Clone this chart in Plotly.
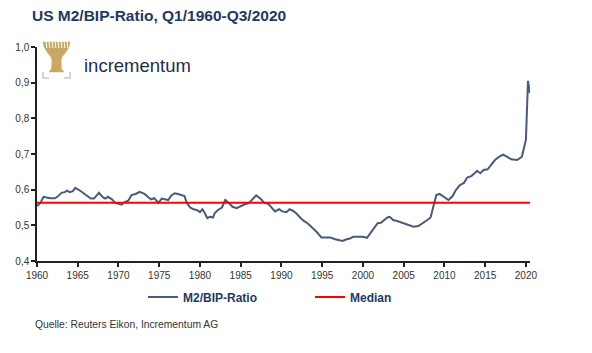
import plotly.graph_objects as go

title_text = "US M2/BIP-Ratio, Q1/1960-Q3/2020"
source_text = "Quelle: Reuters Eikon, Incrementum AG"
series_name = "M2/BIP-Ratio"
median_name = "Median"

years = [1960.0, 1960.4, 1960.8, 1961.2, 1961.6, 1962.2, 1962.6, 1963.0, 1963.4, 1963.7,
         1964.0, 1964.4, 1964.7, 1965.3, 1965.7, 1966.2, 1966.6, 1967.0, 1967.3, 1967.6,
         1968.1, 1968.4, 1968.7, 1969.2, 1969.6, 1970.0, 1970.4, 1970.8, 1971.2, 1971.6,
         1972.1, 1972.6, 1973.2, 1973.7, 1974.0, 1974.4, 1974.9, 1975.3, 1975.7, 1976.1,
         1976.5, 1976.9, 1977.3, 1977.8, 1978.1, 1978.4, 1978.8, 1979.2, 1979.6, 1980.0,
         1980.3, 1980.6, 1980.9, 1981.2, 1981.6, 1981.8, 1982.2, 1982.7, 1983.1, 1983.5,
         1984.0, 1984.5, 1985.0, 1985.5, 1986.0, 1986.5, 1986.9, 1987.4, 1987.9, 1988.4,
         1988.8, 1989.2, 1989.7, 1990.1, 1990.6, 1991.0, 1991.4, 1991.8, 1992.3, 1992.7,
         1993.2, 1993.7, 1994.3, 1994.9, 1995.5, 1996.0, 1996.6, 1997.1, 1997.5, 1998.0,
         1998.4, 1998.8, 1999.2, 1999.6, 2000.0, 2000.5, 2000.9, 2001.4, 2001.8, 2002.2,
         2002.6, 2003.0, 2003.3, 2003.7, 2004.1, 2004.9, 2005.6, 2006.2, 2006.8, 2007.4,
         2007.9, 2008.3, 2008.6, 2009.0, 2009.4, 2009.9, 2010.5, 2011.0, 2011.4, 2011.9,
         2012.4, 2012.8, 2013.3, 2013.7, 2014.0, 2014.4, 2014.8, 2015.3, 2015.7, 2016.2,
         2016.7, 2017.2, 2017.7, 2018.2, 2018.9, 2019.5, 2019.75, 2020.0, 2020.25, 2020.5]

ratio = [0.554, 0.562, 0.580, 0.578, 0.576, 0.576, 0.582, 0.591, 0.593, 0.597,
         0.593, 0.596, 0.605, 0.597, 0.591, 0.582, 0.575, 0.575, 0.582, 0.591,
         0.578, 0.575, 0.580, 0.573, 0.563, 0.560, 0.558, 0.566, 0.569, 0.585,
         0.588, 0.594, 0.588, 0.578, 0.573, 0.576, 0.563, 0.575, 0.573, 0.571,
         0.584, 0.590, 0.588, 0.584, 0.582, 0.562, 0.550, 0.545, 0.543, 0.537,
         0.545, 0.534, 0.520, 0.524, 0.522, 0.534, 0.543, 0.550, 0.571, 0.563,
         0.552, 0.548, 0.554, 0.559, 0.562, 0.573, 0.584, 0.575, 0.563, 0.560,
         0.550, 0.539, 0.545, 0.539, 0.537, 0.545, 0.541, 0.534, 0.522, 0.513,
         0.506, 0.496, 0.482, 0.466, 0.465, 0.466, 0.461, 0.459, 0.456, 0.461,
         0.463, 0.468, 0.468, 0.466, 0.468, 0.465, 0.478, 0.496, 0.506, 0.507,
         0.515, 0.522, 0.524, 0.515, 0.513, 0.507, 0.501, 0.496, 0.498, 0.506,
         0.515, 0.522, 0.552, 0.585, 0.588, 0.580, 0.571, 0.582, 0.599, 0.613,
         0.619, 0.634, 0.638, 0.646, 0.653, 0.646, 0.655, 0.657, 0.669, 0.683,
         0.692, 0.698, 0.692, 0.685, 0.683, 0.692, 0.716, 0.740, 0.905, 0.870]

median_value = 0.563
median_span = [1960.0, 2020.5]

x_ticks = [1960, 1965, 1970, 1975, 1980, 1985, 1990, 1995, 2000, 2005, 2010, 2015, 2020]
y_ticks = [0.4, 0.5, 0.6, 0.7, 0.8, 0.9, 1.0]

NAVY = "#1F3864"
LINE = "#4A5A7C"
GOLD = "#C9A961"

fig = go.Figure()
fig.add_trace(go.Scatter(x=years, y=ratio, mode="lines", name=series_name,
                         line=dict(color=LINE, width=2)))
fig.add_trace(go.Scatter(x=median_span, y=[median_value, median_value], mode="lines",
                         name=median_name, line=dict(color="#FF0000", width=2)))

# plot area in pixels: x 37..530, y 47..261
L, R, T, B = 37, 530, 47, 261
W, H = R - L, B - T
def px(x):
    return (x - L) / W
def py(y):
    return (B - y) / H

def pth(points):
    return "M " + " L ".join("{},{}".format(px(a), py(b)) for a, b in points) + " Z"

shapes = []
# stylised tree icon (logo): crown fan + trunk
crown = [(43, 42), (70, 42), (69, 47), (66, 52), (62, 57), (61, 60), (61.5, 69),
         (64, 72), (49, 72), (51.5, 69), (52, 60), (51, 57), (47, 52), (44, 47)]
shapes.append(dict(type="path", xref="paper", yref="paper", path=pth(crown),
                   fillcolor=GOLD, line=dict(color=GOLD, width=0.5), layer="above"))
for xs in [46, 49, 52, 55, 58, 61, 64, 67]:
    shapes.append(dict(type="line", xref="paper", yref="paper",
                       x0=px(xs), x1=px(xs + 0.8), y0=py(41), y1=py(48),
                       line=dict(color="white", width=1)))
# grey brackets under the tree
shapes.append(dict(type="path", xref="paper", yref="paper",
                   path="M {},{} L {},{} L {},{}".format(px(43), py(72), px(43), py(78), px(49), py(78)),
                   line=dict(color="#C8C8C8", width=1.5)))
shapes.append(dict(type="path", xref="paper", yref="paper",
                   path="M {},{} L {},{} L {},{}".format(px(70), py(72), px(70), py(78), px(64), py(78)),
                   line=dict(color="#C8C8C8", width=1.5)))

fig.update_layout(
    width=592, height=353,
    margin=dict(l=L, r=592 - R, t=T, b=353 - B),
    paper_bgcolor="white", plot_bgcolor="white",
    separators=",.",
    font=dict(family="Liberation Sans, Arial, sans-serif", color="#333333", size=9),
    showlegend=True,
    legend=dict(orientation="h", x=px(143), xanchor="left", y=py(297), yanchor="middle",
                font=dict(size=12, color=NAVY, family="Liberation Sans, Arial, sans-serif",
                          weight="bold"),
                entrywidth=122, itemwidth=30, bgcolor="rgba(0,0,0,0)"),
    xaxis=dict(range=[1960, 2020.5], tickvals=x_ticks, showgrid=False, zeroline=False,
               showline=True, linecolor="#222222", linewidth=1.5,
               ticks="outside", ticklen=4, tickcolor="#222222", tickwidth=1.5,
               tickfont=dict(size=10, color="#333333")),
    yaxis=dict(range=[0.4, 1.0], tickvals=y_ticks, tickformat=".1f", showgrid=False,
               zeroline=False, showline=True, linecolor="#222222", linewidth=1.5,
               ticks="outside", ticklen=4, tickcolor="#222222", tickwidth=1.5,
               tickfont=dict(size=10, color="#333333")),
    shapes=shapes,
    annotations=[
        dict(text="<b>" + title_text + "</b>", xref="paper", yref="paper",
             x=px(30), y=py(15), xanchor="left", yanchor="middle", showarrow=False,
             font=dict(size=15.5, color=NAVY)),
        dict(text="incrementum", xref="paper", yref="paper",
             x=px(82), y=py(65), xanchor="left", yanchor="middle", showarrow=False,
             font=dict(size=18.5, color="#1F2D55")),
        dict(text=source_text, xref="paper", yref="paper",
             x=px(33), y=py(324), xanchor="left", yanchor="middle", showarrow=False,
             font=dict(size=10.3, color="#333333")),
    ],
)

fig.write_html("out.html")
